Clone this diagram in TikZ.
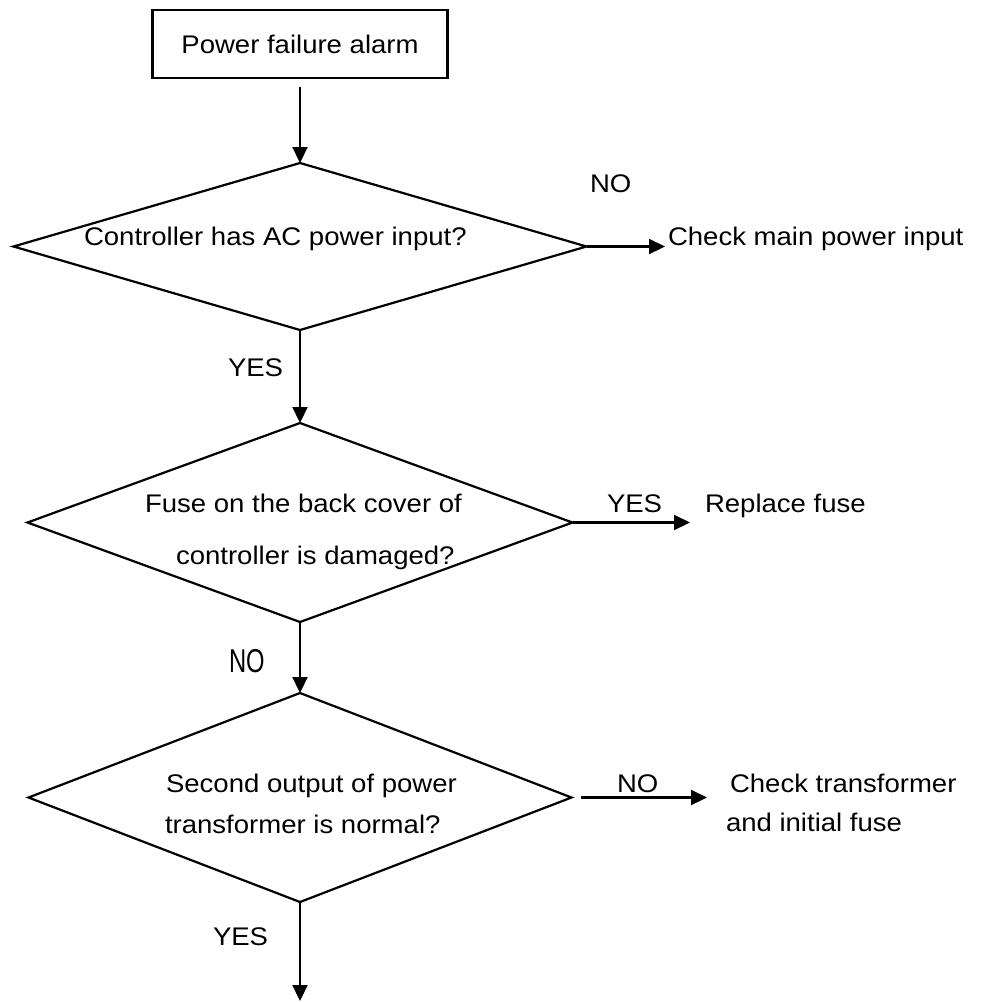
\documentclass[tikz,border=0pt]{standalone}
\usepackage{fontspec}
\setmainfont{Liberation Sans}[FakeStretch=1.08]
\newfontfamily\narrowfont{Liberation Sans}[FakeStretch=0.72]
\usetikzlibrary{shapes.geometric,arrows.meta}

\tikzstyle{every node}=[inner sep=0pt,outer sep=0pt]
\tikzstyle{txt}=[anchor=base west,font=\fontsize{25.5}{30}\selectfont]
\tikzstyle{startbox}=[draw=black,line width=2.2pt,minimum width=295pt,minimum height=68pt,font=\fontsize{25.5}{30}\selectfont]
\tikzstyle{decision}=[draw=black,line width=2.2pt,diamond]
\tikzstyle{flow}=[line width=2.2pt,-{Triangle[length=16pt,width=15pt]}]

\begin{document}
\begin{tikzpicture}[x=1pt,y=-1pt]
  \useasboundingbox (0,0) rectangle (984,1002);

  % start box and the three checks
  \node[startbox] (alarm) at (300,44) {Power failure alarm};
  \node[decision,minimum width=573pt,minimum height=167pt] (acin) at (300,246.5) {};
  \node[decision,minimum width=545pt,minimum height=199pt] (fuse) at (300,522.5) {};
  \node[decision,minimum width=543pt,minimum height=209pt] (trafo) at (300,797.5) {};

  % questions
  \node[txt] (acq) at (84,245) {Controller has AC power input?};
  \node[txt] (fuseq1) at (145,512) {Fuse on the back cover of};
  \node[txt] (fuseq2) at (176,564) {controller is damaged?};
  \node[txt] (trafoq1) at (166,792) {Second output of power};
  \node[txt] (trafoq2) at (165,833) {transformer is normal?};

  % actions
  \node[txt] (mainin) at (668,245) {Check main power input};
  \node[txt] (repl) at (705,512) {Replace fuse};
  \node[txt] (chk1) at (730,792) {Check transformer};
  \node[txt] (chk2) at (726,831) {and initial fuse};

  % answers
  \node[txt] (no1) at (590,192) {NO};
  \node[txt] (yes1) at (228,376) {YES};
  \node[txt] (yes2) at (607,512) {YES};
  \node[txt,font=\narrowfont\fontsize{33}{36}\selectfont] (no2) at (229,672) {NO};
  \node[txt] (no3) at (617,792) {NO};
  \node[txt] (yes3) at (213,945) {YES};

  \coordinate (out) at (300,1001);

  % connectors
  \draw[flow,shorten <=9pt] (alarm.south) -- (acin.north);
  \draw[flow] (acin.south) -- (fuse.north);
  \draw[flow] (fuse.south) -- (trafo.north);
  \draw[flow] (trafo.south) -- (out);
  \draw[flow,shorten >=3pt] (acin.east) -- (acin.east -| mainin.west);
  \draw[flow,shorten >=15pt] (fuse.east) -- (fuse.east -| repl.west);
  \draw[flow,shorten <=9pt,shorten >=23pt] (trafo.east) -- (trafo.east -| chk1.west);
\end{tikzpicture}
\end{document}
